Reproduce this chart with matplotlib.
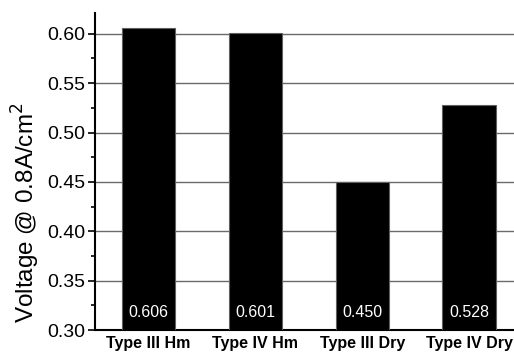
#!/usr/bin/env python3
import matplotlib.pyplot as plt
from matplotlib.ticker import MultipleLocator

categories = ["Type III Hm", "Type IV Hm", "Type III Dry", "Type IV Dry"]
voltages = [0.606, 0.601, 0.450, 0.528]
value_labels = ["0.606", "0.601", "0.450", "0.528"]


def main():
    plt.rcParams["font.family"] = ["Liberation Sans", "DejaVu Sans"]

    fig = plt.figure(figsize=(5.14, 3.53), dpi=100)
    ax = fig.add_axes([0.185, 0.065, 0.815, 0.898])

    x = range(len(categories))
    ax.bar(x, voltages, width=0.5, bottom=0, color="black",
           edgecolor="#606060", linewidth=0.8, zorder=3)

    for xi, lab in zip(x, value_labels):
        ax.text(xi, 0.3175, lab, color="white", ha="center", va="center",
                fontsize=11.5, zorder=4)

    ax.set_xlim(-0.5, 3.42)
    ax.set_ylim(0.30, 0.621)
    ax.yaxis.set_major_locator(MultipleLocator(0.05))
    ax.yaxis.set_minor_locator(MultipleLocator(0.025))
    ax.yaxis.set_major_formatter(plt.FormatStrFormatter("%.2f"))
    ax.grid(axis="y", color="#6a6a6a", linewidth=1.0, zorder=1)

    ax.set_xticks(list(x))
    ax.set_xticklabels(categories, fontsize=11.5, fontweight="bold")
    ax.tick_params(axis="x", length=0, pad=4)
    ax.tick_params(axis="y", which="major", length=5, width=1.2,
                   labelsize=14, pad=2)
    ax.tick_params(axis="y", which="minor", length=3, width=1.2)

    ax.spines["top"].set_visible(False)
    ax.spines["right"].set_visible(False)
    ax.spines["left"].set_linewidth(1.5)
    ax.spines["bottom"].set_linewidth(1.5)

    ax.set_ylabel("Voltage @ 0.8A/cm$^2$", fontsize=17.5)
    ax.yaxis.set_label_coords(-0.127, 0.37)

    fig.savefig("out.png", dpi=100)


if __name__ == "__main__":
    main()
